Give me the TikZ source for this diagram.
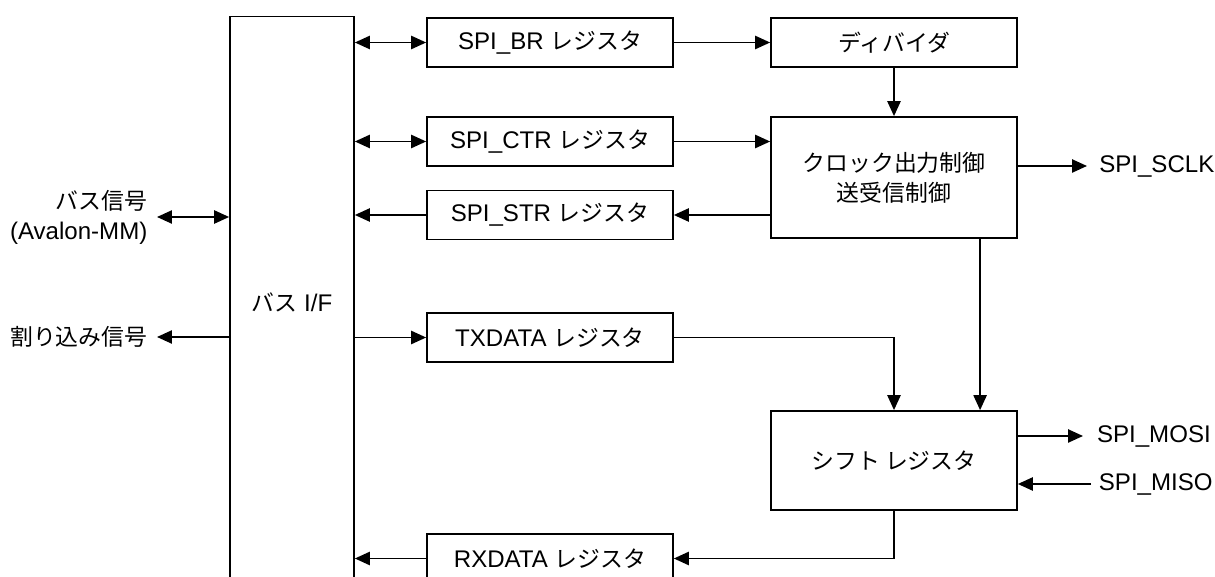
\documentclass[tikz,border=0pt]{standalone}
\usepackage{fontspec}
\setmainfont{Liberation Sans}
\newfontfamily\jpfont[Scale=0.95]{Noto Sans CJK JP}
\usetikzlibrary{arrows.meta}

\newcommand\regWidth{4.92cm}
\newcommand\regHeight{0.98cm}
\newcommand\colorLine{black}

\tikzset{
	regbox/.style={draw=\colorLine, line width=1pt, minimum width=\regWidth, minimum height=\regHeight, inner sep=0pt},
	ctlbox/.style={regbox, align=center},
	busbox/.style={draw=\colorLine, line width=1pt, minimum width=2.48cm, minimum height=12.46cm, inner sep=0pt},
	siglabel/.style={inner sep=0pt, outer sep=5.5pt},
	conn/.style={line width=1pt, color=\colorLine, -{Triangle[length=8.5pt,width=7.5pt]}},
	dconn/.style={line width=1pt, color=\colorLine, {Triangle[length=8.5pt,width=7.5pt]}-{Triangle[length=8.5pt,width=7.5pt]}},
}

\begin{document}
\begin{tikzpicture}[x=0.02cm, y=-0.02cm, font=\fontsize{13.7pt}{17pt}\selectfont]
	\useasboundingbox (0,0) rectangle (1215,577);

	% bus interface
	\node[busbox] (busif) at (292,328) {};
	\node (busiflabel) at (292,302) {{\jpfont バス} I/F};

	% registers
	\node[regbox] (br) at (550,42.5) {SPI\_BR {\jpfont レジスタ}};
	\node[regbox] (ctr) at (550,141.5) {SPI\_CTR {\jpfont レジスタ}};
	\node[regbox] (str) at (550,215) {SPI\_STR {\jpfont レジスタ}};
	\node[regbox] (tx) at (550,337.5) {TXDATA {\jpfont レジスタ}};
	\node[regbox] (rx) at (550,558.5) {RXDATA {\jpfont レジスタ}};

	% control side
	\node[regbox] (div) at (894,42.5) {\jpfont ディバイダ};
	\node[ctlbox, minimum height=2.42cm] (clk) at (894,177.5) {\jpfont クロック出力制御\\\jpfont 送受信制御};
	\node[regbox, minimum height=1.98cm] (shift) at (894,460.5) {\jpfont シフト レジスタ};

	% external signals
	\node[siglabel, anchor=east, align=right] (bussig) at (157,217) {\jpfont バス信号\\(Avalon-MM)};
	\node[siglabel, anchor=east] (intr) at (157,337) {\jpfont 割り込み信号};
	\node[siglabel, anchor=west, outer sep=7pt] (sclk) at (1087,166) {SPI\_SCLK};
	\node[siglabel, anchor=west, outer sep=8pt] (mosi) at (1083,436) {SPI\_MOSI};
	\node[siglabel, anchor=west, outer sep=4.5pt] (miso) at (1091,484) {SPI\_MISO};

	% connections
	\draw[dconn] (bussig.east) -- (bussig.east -| busif.west);
	\draw[conn] (busif.west |- intr) -- (intr.east);
	\draw[dconn] (br.west -| busif.east) -- (br.west);
	\draw[conn] (br) -- (div);
	\draw[conn] (div) -- (clk);
	\draw[dconn] (ctr.west -| busif.east) -- (ctr.west);
	\draw[conn] (ctr.east) -- (ctr.east -| clk.west);
	\draw[conn] (str.east -| clk.west) -- (str.east);
	\draw[conn] (str.west) -- (str.west -| busif.east);
	\draw[conn] (clk.east |- sclk) -- (sclk.west);
	\draw[conn] (tx.west -| busif.east) -- (tx.west);
	\draw[conn] (tx.east) -| (shift.north);
	\draw[conn] ([xshift=49]clk.south) -- ([xshift=49]shift.north);
	\draw[conn] (shift.east |- mosi) -- (mosi.west);
	\draw[conn] (miso.west) -- (shift.east |- miso);
	\draw[conn] (shift.south) |- (rx.east);
	\draw[conn] (rx.west) -- (rx.west -| busif.east);
\end{tikzpicture}
\end{document}
